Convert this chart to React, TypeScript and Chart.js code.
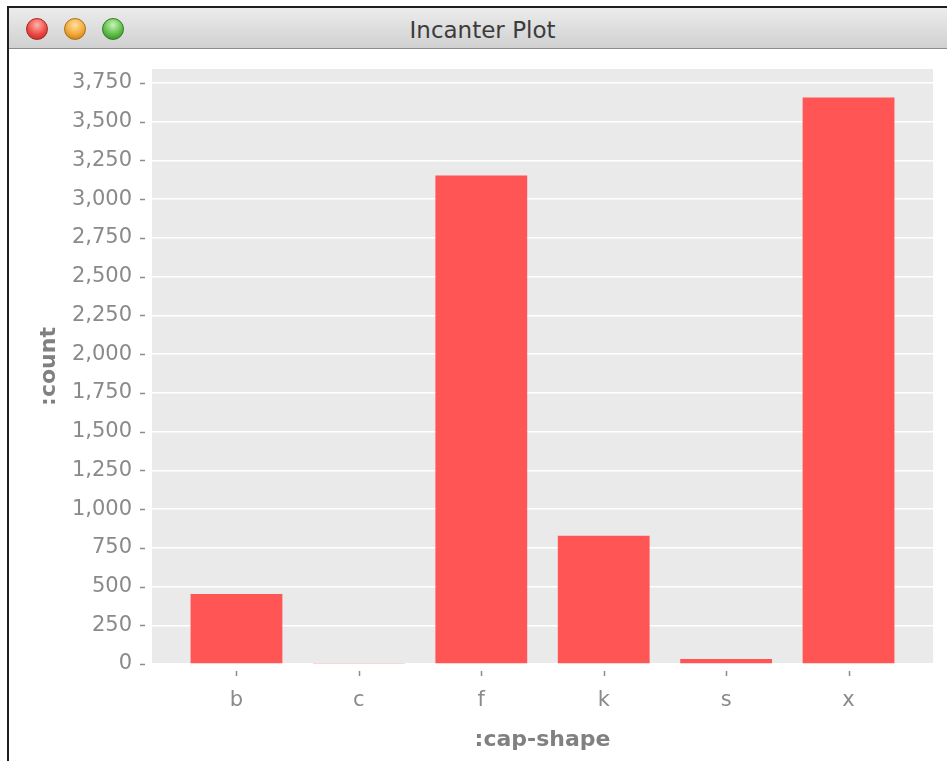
import React, { useEffect, useRef } from "react";
import { Chart, registerables } from "chart.js";

Chart.register(...registerables);

// ---- data ----
const categories = ["b", "c", "f", "k", "s", "x"];
const counts = [452, 4, 3152, 828, 32, 3656];
const yTickValues = [0, 250, 500, 750, 1000, 1250, 1500, 1750, 2000, 2250, 2500, 2750, 3000, 3250, 3500, 3750];
const yMax = 3840;
const xTitle = ":cap-shape";
const yTitle = ":count";
const windowTitle = "Incanter Plot";

const FONT = "'DejaVu Sans', 'Lucida Grande', sans-serif";

const plotDecor = {
  id: "plotDecor",
  beforeDraw(chart: any) {
    const { ctx, chartArea } = chart;
    ctx.save();
    ctx.fillStyle = "#eaeaea";
    ctx.fillRect(chartArea.left, chartArea.top, chartArea.right - chartArea.left, chartArea.bottom - chartArea.top);
    ctx.restore();
  },
  afterDraw(chart: any) {
    const { ctx, chartArea, scales } = chart;
    ctx.save();
    ctx.strokeStyle = "#8c8c8c";
    ctx.lineWidth = 1.5;
    // y tick marks
    scales.y.ticks.forEach((t: any) => {
      const py = Math.round(scales.y.getPixelForValue(t.value)) + 0.5;
      ctx.beginPath();
      ctx.moveTo(chartArea.left - 12, py);
      ctx.lineTo(chartArea.left - 7, py);
      ctx.stroke();
    });
    // x tick marks
    scales.x.ticks.forEach((t: any) => {
      const px = Math.round(scales.x.getPixelForValue(t.value)) + 0.5;
      ctx.beginPath();
      ctx.moveTo(px, chartArea.bottom + 7);
      ctx.lineTo(px, chartArea.bottom + 12);
      ctx.stroke();
    });
    ctx.restore();
  },
};

function ChartCanvas() {
  const ref = useRef<HTMLCanvasElement | null>(null);
  useEffect(() => {
    if (!ref.current) return;
    const chart = new Chart(ref.current, {
      type: "bar",
      data: {
        datasets: [
          {
            data: counts.map((v, i) => ({ x: i, y: v })),
            backgroundColor: "#ff5555",
            borderWidth: 0,
            barPercentage: 0.75,
            categoryPercentage: 1,
          },
        ],
      },
      options: {
        animation: false,
        responsive: false,
        devicePixelRatio: 1,
        layout: { padding: { top: 19, right: 14, left: 0, bottom: 0 } },
        plugins: { legend: { display: false }, tooltip: { enabled: false }, title: { display: false } },
        scales: {
          x: {
            type: "linear",
            min: -0.69,
            max: 5.69,
            offset: false,
            grid: { display: false, drawTicks: false },
            border: { display: false },
            afterBuildTicks: (scale: any) => {
              scale.ticks = categories.map((_, i) => ({ value: i }));
            },
            afterFit: (scale: any) => {
              scale.height = 97;
              scale.paddingLeft = 0;
              scale.paddingRight = 0;
            },
            ticks: {
              padding: 24,
              color: "#8a8a8a",
              font: { family: FONT, size: 21 },
              maxRotation: 0,
              autoSkip: false,
              callback: (v: any) => categories[v as number] ?? "",
            },
            title: {
              display: true,
              text: xTitle,
              color: "#808080",
              font: { family: FONT, size: 22, weight: "bold" },
              padding: { top: 0, bottom: 8 },
            },
          },
          y: {
            min: 0,
            max: yMax,
            grid: { color: "#ffffff", lineWidth: 1.5, drawTicks: false },
            border: { display: false },
            afterBuildTicks: (scale: any) => {
              scale.ticks = yTickValues.map((v) => ({ value: v }));
            },
            afterFit: (scale: any) => {
              scale.width = 142;
              scale.paddingTop = 0;
              scale.paddingBottom = 0;
            },
            ticks: {
              padding: 20,
              color: "#8a8a8a",
              font: { family: FONT, size: 21 },
              autoSkip: false,
              callback: (v: any) => Number(v).toLocaleString("en-US"),
            },
            title: {
              display: true,
              text: yTitle,
              color: "#808080",
              font: { family: FONT, size: 22, weight: "bold" },
              padding: { top: 26, bottom: 0 },
            },
          },
        },
      } as any,
      plugins: [plotDecor],
    });
    return () => chart.destroy();
  }, []);
  return (
    <canvas
      ref={ref}
      width={937}
      height={711}
      style={{ position: "absolute", left: 10, top: 50, width: 937, height: 711 }}
    />
  );
}

function Light({ x, c1, c2, c3 }: { x: number; c1: string; c2: string; c3: string }) {
  return (
    <div
      style={{
        position: "absolute",
        left: x - 11,
        top: 18,
        width: 22,
        height: 22,
        borderRadius: "50%",
        boxSizing: "border-box",
        border: `1px solid ${c3}`,
        background: `radial-gradient(circle at 50% 30%, ${c1} 0%, ${c2} 55%, ${c3} 100%)`,
      }}
    />
  );
}

export default function App() {
  return (
    <div
      style={{
        position: "absolute",
        left: 0,
        top: 0,
        width: 947,
        height: 761,
        overflow: "hidden",
        background: "#ffffff",
      }}
    >
      {/* window frame */}
      <div
        style={{
          position: "absolute",
          left: 7,
          top: 6,
          width: 1000,
          height: 800,
          borderLeft: "2px solid #1e1e1e",
          borderTop: "2px solid #1e1e1e",
          background: "#ffffff",
        }}
      />
      {/* title bar */}
      <div
        style={{
          position: "absolute",
          left: 9,
          top: 8,
          width: 1000,
          height: 40,
          background: "linear-gradient(#ececec, #d0d0d0)",
          borderBottom: "1px solid #8c8c8c",
        }}
      />
      <Light x={37} c1="#ffb3ad" c2="#ec4b43" c3="#a8261f" />
      <Light x={75} c1="#ffe0a0" c2="#f2a83a" c3="#b06e12" />
      <Light x={113} c1="#c8f5b8" c2="#5fbe48" c3="#2f7d22" />
      <div
        style={{
          position: "absolute",
          left: 0,
          top: 10,
          width: 965,
          height: 40,
          lineHeight: "40px",
          textAlign: "center",
          fontFamily: FONT,
          fontSize: 23,
          color: "#3c3c3c",
        }}
      >
        {windowTitle}
      </div>
      <ChartCanvas />
    </div>
  );
}
